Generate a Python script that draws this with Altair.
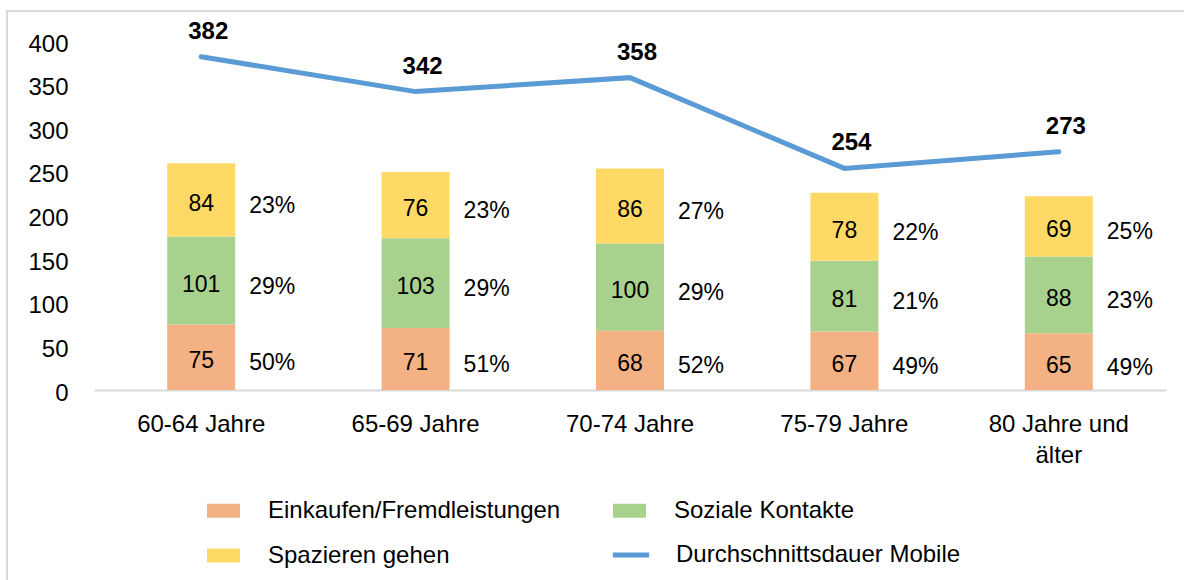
import altair as alt
import pandas as pd

categories = ["60-64 Jahre", "65-69 Jahre", "70-74 Jahre", "75-79 Jahre", "80 Jahre und älter"]
series = ["Einkaufen/Fremdleistungen", "Soziale Kontakte", "Spazieren gehen"]
line_name = "Durchschnittsdauer Mobile"
einkaufen = [75, 71, 68, 67, 65]
soziale = [101, 103, 100, 81, 88]
spazieren = [84, 76, 86, 78, 69]
pct_einkaufen = ["50%", "51%", "52%", "49%", "49%"]
pct_soziale = ["29%", "29%", "29%", "21%", "23%"]
pct_spazieren = ["23%", "23%", "27%", "22%", "25%"]
dauer = [382, 342, 358, 254, 273]

bar_colors = ["#F4B183", "#A9D18E", "#FFD966"]
line_color = "#5B9BD5"
FONT = "Liberation Sans"

rows = []
for i, c in enumerate(categories):
    base = 0
    for j, (s, vals, pcts) in enumerate(zip(series, [einkaufen, soziale, spazieren],
                                            [pct_einkaufen, pct_soziale, pct_spazieren])):
        v = vals[i]
        rows.append({"cat": c, "series": s, "value": v, "order": j,
                     "y0": base, "y1": base + v, "mid": base + v / 2, "pct": pcts[i]})
        base += v
bars_df = pd.DataFrame(rows)
line_df = pd.DataFrame({"cat": categories, "series": line_name, "value": dauer})

x_enc = alt.X("cat:N", sort=categories, title=None,
              scale=alt.Scale(paddingInner=0, paddingOuter=0),
              axis=alt.Axis(labelAngle=0, labelFontSize=24, labelFont=FONT, labelColor="black",
                            domainColor="#d9d9d9", domainWidth=2, ticks=False, labelPadding=22,
                            labelLineHeight=31, labelLimit=300,
                            labelExpr="datum.value == '80 Jahre und älter' ? ['80 Jahre und', 'älter'] : datum.label"))
y_scale = alt.Scale(domain=[0, 400], nice=False)
y_axis = alt.Axis(values=[0, 50, 100, 150, 200, 250, 300, 350, 400], grid=False, domain=False,
                  ticks=False, labelPadding=26, labelOffset=3, labelFontSize=24, labelFont=FONT,
                  labelColor="black")

fill_legend = alt.Legend(
    title=None, orient="none", legendX=113, legendY=453, columns=2, direction="horizontal",
    columnPadding=52, rowPadding=16, symbolSize=1089, symbolType="M-1,-0.42H1V0.42H-1Z",
    labelOffset=28, labelFontSize=24, labelFont=FONT, labelColor="black", labelLimit=500,
    padding=0, symbolStrokeWidth=0)
stroke_legend = alt.Legend(
    title=None, orient="none", legendX=518, legendY=495, symbolSize=1089, symbolType="M-1.1,0H1.1",
    symbolStrokeWidth=5, labelOffset=26, labelFontSize=24, labelFont=FONT, labelColor="black",
    labelLimit=500, padding=0)

frame = alt.Chart(alt.Data(values=[{}])).mark_rect(
    fill="transparent", stroke="#d9d9d9", strokeWidth=2).encode(
    x=alt.value(-87), x2=alt.value(1110), y=alt.value(-30), y2=alt.value(560))

bars = alt.Chart(bars_df).mark_bar(size=68).encode(
    x=x_enc,
    y=alt.Y("y0:Q", scale=y_scale, axis=y_axis, title=None),
    y2="y1:Q",
    fill=alt.Fill("series:N", scale=alt.Scale(domain=series, range=bar_colors), legend=fill_legend),
    order=alt.Order("order:Q"),
)

bar_text = alt.Chart(bars_df).mark_text(fontSize=23, font=FONT, color="black", dy=4).encode(
    x=alt.X("cat:N", sort=categories), y=alt.Y("mid:Q"), text="value:Q")

pct_text = alt.Chart(bars_df).mark_text(fontSize=23, font=FONT, color="black", align="left",
                                         dx=48, dy=6).encode(
    x=alt.X("cat:N", sort=categories), y=alt.Y("mid:Q"), text="pct:N")

line = alt.Chart(line_df).mark_line(strokeWidth=5, strokeCap="round", strokeJoin="miter").encode(
    x=alt.X("cat:N", sort=categories), y=alt.Y("value:Q"),
    stroke=alt.Stroke("series:N", scale=alt.Scale(domain=[line_name], range=[line_color]),
                      legend=stroke_legend))

line_text = alt.Chart(line_df).mark_text(fontSize=24, font=FONT, fontWeight="bold", color="black",
                                          baseline="bottom", dx=7, dy=-13).encode(
    x=alt.X("cat:N", sort=categories), y=alt.Y("value:Q"), text="value:Q")

chart = alt.layer(frame, bars, bar_text, pct_text, line, line_text).properties(
    width=1072, height=349, autosize="none",
    padding={"left": 94, "top": 41, "right": 18, "bottom": 190},
    background="white",
).resolve_scale(fill="independent", stroke="independent").configure_view(stroke=None)

chart.save("out.html", embed_options={"renderer": "svg", "actions": False})
